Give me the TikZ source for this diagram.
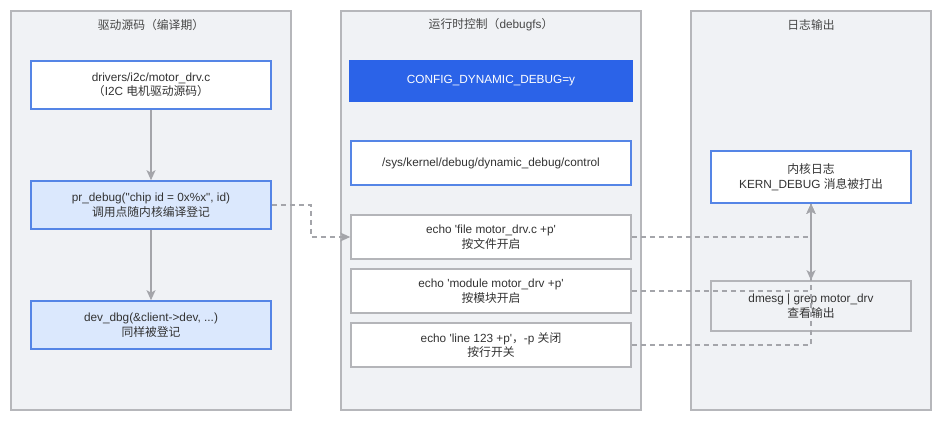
\documentclass[tikz,border=0pt]{standalone}
\usepackage{fontspec}
\setmainfont{Liberation Sans}[Ligatures=TeXOff]
\newfontfamily\cjk{Noto Sans CJK SC}
\usetikzlibrary{arrows.meta}
\definecolor{panelfill}{HTML}{F0F2F5}
\definecolor{panelborder}{HTML}{B6B7BB}
\definecolor{blueborder}{HTML}{5585E6}
\definecolor{lightblue}{HTML}{DBE8FD}
\definecolor{strongblue}{HTML}{2B63E8}
\definecolor{grayborder}{HTML}{B4B5B9}
\definecolor{conncol}{HTML}{A4A5AA}
\definecolor{txt}{HTML}{333333}
\begin{document}
\begin{tikzpicture}[x=1pt,y=-1pt,
  every node/.style={font=\fontsize{11.8}{14.5}\selectfont, text=txt, align=center, inner sep=0pt},
  panel/.style={draw=panelborder, fill=panelfill, line width=1.5pt},
  ptitle/.style={text=black!72},
  boxbase/.style={rectangle, line width=1.6pt, minimum width=#1},
  bluebox/.style={boxbase=240pt, draw=blueborder, fill=white, minimum height=48pt},
  lbluebox/.style={boxbase=240pt, draw=blueborder, fill=lightblue, minimum height=48pt},
  cfgbox/.style={boxbase=282pt, draw=strongblue, fill=strongblue, minimum height=41pt, text=white},
  whitebox/.style={boxbase=280pt, draw=blueborder, fill=white, minimum height=44pt},
  graybox/.style={boxbase=280pt, draw=grayborder, fill=white, minimum height=44pt},
  rbluebox/.style={boxbase=200pt, draw=blueborder, fill=white, minimum height=52pt},
  rgraybox/.style={boxbase=200pt, draw=grayborder, fill=panelfill, minimum height=50pt},
  conn/.style={draw=conncol, line width=1.5pt, -{Stealth[length=10pt,width=9pt,inset=2.5pt]}},
  dconn/.style={draw=conncol, line width=1.5pt, dash pattern=on 5pt off 4pt, -{Stealth[length=10pt,width=9pt,inset=2.5pt]}}
]
\useasboundingbox (0,0) rectangle (945,425);
\fill[white] (0,0) rectangle (945,425);
% panels
\draw[panel] (11,11) rectangle (291,410);
\draw[panel] (341,11) rectangle (641,410);
\draw[panel] (691,11) rectangle (931,410);
\node[ptitle] (t1) at (151,25) {{\cjk 驱动源码（编译期）}};
\node[ptitle] (t2) at (491,25) {{\cjk 运行时控制（}debugfs{\cjk ）}};
\node[ptitle] (t3) at (811,25) {{\cjk 日志输出}};
% left column
\node[bluebox] (b1) at (151,85) {drivers/i2c/motor\_drv.c\\{\cjk （}I2C {\cjk 电机驱动源码）}};
\node[lbluebox] (b2) at (151,205) {pr\_debug("chip id = 0x\%x", id)\\{\cjk 调用点随内核编译登记}};
\node[lbluebox] (b3) at (151,325) {dev\_dbg(\&client->dev, ...)\\{\cjk 同样被登记}};
% middle column
\node[cfgbox] (cfg) at (491,81) {CONFIG\_DYNAMIC\_DEBUG=y};
\node[whitebox] (ctl) at (491,163) {/sys/kernel/debug/dynamic\_debug/control};
\node[graybox] (e1) at (491,237) {echo 'file motor\_drv.c +p'\\{\cjk 按文件开启}};
\node[graybox] (e2) at (491,291) {echo 'module motor\_drv +p'\\{\cjk 按模块开启}};
\node[graybox] (e3) at (491,345) {echo 'line 123 +p'{\cjk ，}-p {\cjk 关闭}\\{\cjk 按行开关}};
% right column
\node[rbluebox] (klog) at (811,177) {{\cjk 内核日志}\\KERN\_DEBUG {\cjk 消息被打出}};
\node[rgraybox] (dm) at (811,306) {dmesg | grep motor\_drv\\{\cjk 查看输出}};
% connectors
\draw[conn] (b1) -- (b2);
\draw[conn] (b2) -- (b3);
\coordinate (j1) at (311,205);
\draw[dconn] (b2.east) -- (j1) |- (e1.west);
\draw[dconn] (e1.east) -| (klog.south);
\draw[dconn] (e2.east) -| (klog.south);
\draw[dconn] (e3.east) -| (klog.south);
\draw[conn] (klog.south) -- (dm.north);
\end{tikzpicture}
\end{document}
